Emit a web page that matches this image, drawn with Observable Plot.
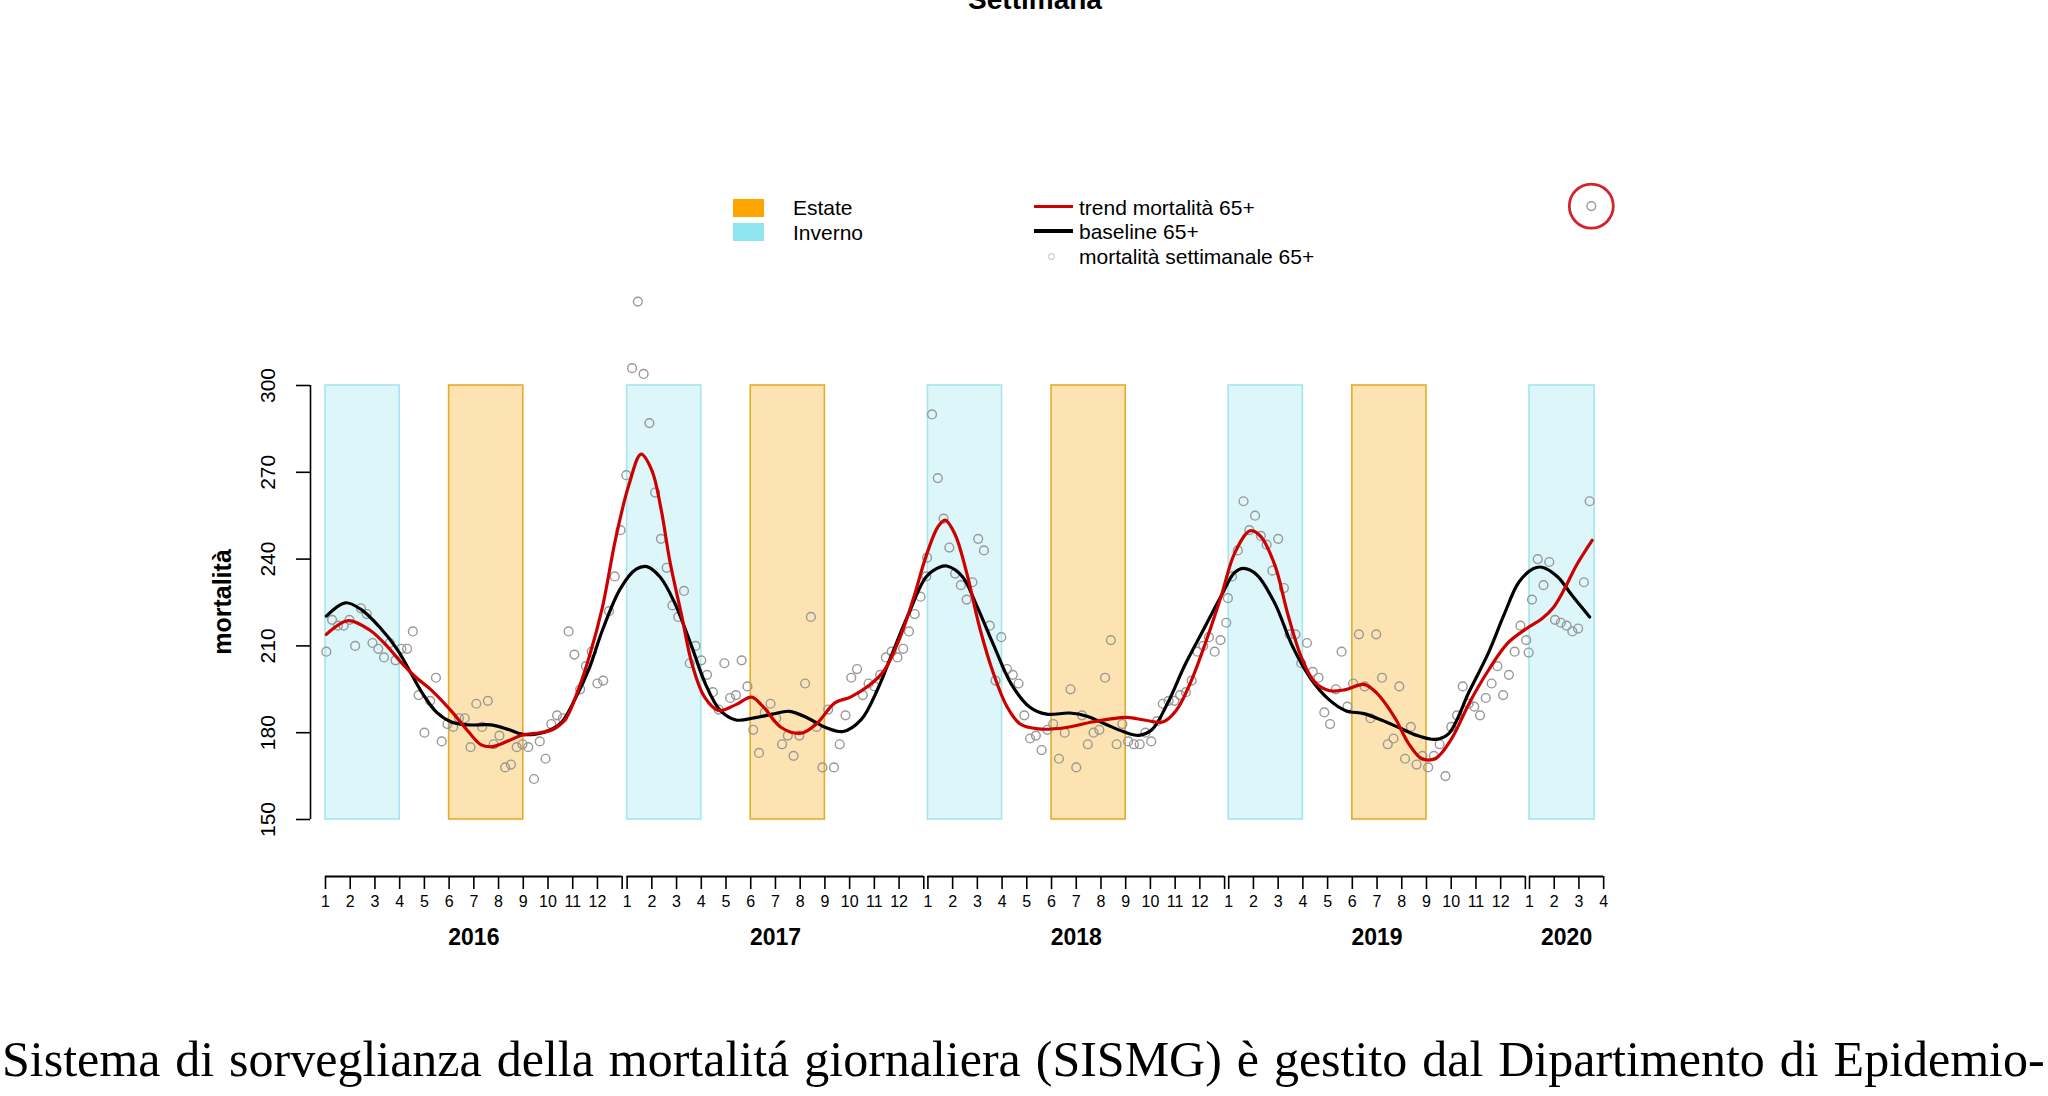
<!DOCTYPE html>
<html><head><meta charset="utf-8">
<script src="https://cdn.jsdelivr.net/npm/d3@7"></script>
<script src="https://cdn.jsdelivr.net/npm/@observablehq/plot@0.6"></script>
<style>
html,body{margin:0;padding:0;background:#fff;}
#page{position:relative;width:2048px;height:1096px;overflow:hidden;background:#fff;font-family:"Liberation Sans",Arial,sans-serif;color:#000;}
#chart{position:absolute;left:0;top:0;}
.abs{position:absolute;white-space:nowrap;}
.lg{position:absolute;white-space:nowrap;font-size:21px;line-height:21px;}
</style></head><body>
<div id="page">
  <div id="chart"></div>
  <div id="title" class="abs" style="left:1035px;top:-14px;font-size:28px;line-height:28px;font-weight:bold;transform:translateX(-50%);">Settimana</div>
  <div id="ylabel" class="abs" style="left:222px;top:602px;font-size:25px;line-height:25px;font-weight:bold;transform:translate(-50%,-50%) rotate(-90deg);">mortalità</div>
  <div class="abs" style="left:733px;top:199px;width:31px;height:18px;background:#FFA500;"></div>
  <div class="abs" style="left:733px;top:223px;width:31px;height:18px;background:#8EE5EE;"></div>
  <div class="lg" style="left:793px;top:197px;">Estate</div>
  <div class="lg" style="left:793px;top:222px;">Inverno</div>
  <div class="abs" style="left:1034px;top:204.5px;width:39px;height:3px;background:#cd0000;"></div>
  <div class="abs" style="left:1034px;top:229px;width:39px;height:3.5px;background:#000;"></div>
  <div class="abs" style="left:1047.5px;top:252.5px;width:5px;height:5px;border:1px solid #bbb;border-radius:50%;"></div>
  <div class="lg" style="left:1079px;top:197px;">trend mortalità 65+</div>
  <div class="lg" style="left:1079px;top:221px;">baseline 65+</div>
  <div class="lg" style="left:1079px;top:246px;">mortalità settimanale 65+</div>
  <div id="caption" class="abs" style="left:2px;top:1034px;font-family:'Liberation Serif','Times New Roman',serif;font-size:50px;line-height:50px;"></div>
</div>
<script>
// ---- weekly mortality 65+ (one value per Saturday, first = 2 Jan 2016) ----
const weekly2016 = [208, 219, 217, 217, 219, 210, 223, 221, 211, 209, 206, 211, 205, 209, 209, 215, 193, 180, 191, 199, 177, 183, 182, 185, 185, 175, 190, 182, 191, 176, 179, 168, 169, 175, 176, 175, 164, 177, 171, 183, 186, 185, 215, 207, 195, 203, 208, 197, 198, 222, 234, 250, 269];
const weekly2017 = [306, 329, 304, 287, 263, 247, 237, 224, 220, 229, 204, 210, 205, 200, 194, 188, 204, 192, 193, 205, 196, 181, 173, 187, 190, 185, 176, 179, 172, 179, 197, 220, 182, 168, 188, 168, 176, 186, 199, 202, 193, 197, 196, 200, 206, 208, 206, 209, 215, 221, 227, 234];
const weekly2018 = [290, 268, 254, 244, 235, 231, 226, 232, 247, 243, 217, 198, 213, 202, 200, 197, 186, 178, 179, 174, 181, 183, 171, 180, 195, 168, 186, 176, 180, 181, 199, 212, 176, 183, 177, 176, 176, 180, 177, 184, 190, 191, 191, 193, 194, 198, 208, 210, 213, 208, 212, 218];
const weekly2019 = [234, 243, 260, 250, 255, 248, 245, 236, 247, 230, 214, 214, 204, 211, 201, 199, 187, 183, 195, 208, 189, 197, 214, 196, 185, 214, 199, 176, 178, 196, 171, 182, 169, 172, 168, 172, 176, 165, 182, 186, 196, 190, 189, 186, 192, 197, 203, 193, 200, 208, 217, 212];
const weekly2020 = [226, 240, 231, 239, 219, 218, 217, 215, 216, 232, 260];
const firstSaturdayDay = 1; // days since 1 Jan 2016

// extra points at the year boundaries (partial weeks)
const boundaryDays = [730, 1095, 1460];
const boundaryValues = [240.5, 226.5, 207.7];

// highlighted (circled) latest value
const highlightDay = [1536];
const highlightValue = [362];

// ---- smooth trend (red) and baseline (black) ----
const trendDays = [1, 27, 54, 76, 92, 108, 130, 152, 173, 189, 203, 222, 238, 260, 276, 292, 306, 320, 336, 352, 368, 383, 396, 407, 418, 432, 445, 460, 477, 498, 517, 531, 553, 577, 596, 618, 637, 659, 678, 697, 713, 729, 743, 752, 764, 778, 794, 810, 827, 843, 865, 897, 930, 951, 973, 995, 1016, 1032, 1049, 1070, 1087, 1103, 1122, 1135, 1152, 1168, 1184, 1200, 1219, 1238, 1260, 1276, 1298, 1314, 1330, 1347, 1366, 1388, 1411, 1434, 1458, 1476, 1490, 1504, 1518, 1537];
const trendValues = [214, 218.7, 215.4, 209.5, 204.2, 199.6, 194.3, 187.7, 180.5, 175.8, 175.2, 177.2, 179.1, 180, 181.1, 185.1, 194.3, 206.2, 223.3, 247, 265.5, 276.3, 270.7, 257.6, 239.1, 220.7, 203.5, 192.3, 187.7, 189.7, 192.3, 189, 181.8, 179.8, 183.1, 190.3, 192.3, 196.2, 201.5, 212.8, 226, 241.2, 251.1, 253.5, 248.5, 235.3, 216.1, 200.9, 189, 183, 181.3, 181.7, 183.7, 184.7, 185.3, 184.3, 183.7, 187.6, 196.9, 212.8, 227.3, 241.9, 249.8, 247.8, 237.9, 220.7, 206.2, 197.6, 194.5, 194.9, 196.7, 193.6, 185, 176.4, 171.1, 171.1, 177.7, 190.3, 201.5, 210.8, 216.1, 219.4, 223.3, 230, 237.9, 246.5];
const baselineDays = [1, 24, 43, 65, 87, 103, 119, 135, 152, 173, 201, 222, 238, 255, 274, 287, 303, 320, 336, 358, 377, 390, 406, 423, 444, 461, 479, 498, 520, 542, 563, 585, 607, 628, 650, 670, 686, 707, 729, 745, 754, 773, 789, 811, 832, 854, 875, 903, 924, 946, 968, 987, 1003, 1022, 1043, 1065, 1087, 1103, 1114, 1130, 1152, 1173, 1195, 1217, 1238, 1260, 1282, 1303, 1325, 1347, 1363, 1388, 1411, 1430, 1448, 1465, 1476, 1495, 1513, 1534];
const baselineValues = [220.3, 224.9, 222.6, 216.7, 208.8, 200.9, 193, 187, 183.8, 182.7, 182.7, 181.1, 179.5, 179.5, 181.1, 183.8, 191.7, 202.2, 215.4, 229.9, 236.5, 237.4, 233.8, 225.3, 210.1, 196.9, 187.7, 184.4, 185.1, 186.4, 187.4, 185.1, 181.8, 180.4, 184.5, 195, 206.2, 220.7, 233.9, 237.2, 237.6, 233.9, 224.7, 210.1, 196.9, 189, 186.4, 186.8, 185.7, 183, 180.4, 179.1, 181.1, 190.3, 203.5, 215.4, 227.3, 235.3, 236.8, 234.6, 224.7, 210.1, 198.9, 191.6, 187.6, 186.6, 184.3, 181.7, 179, 177.7, 179.7, 194.3, 207.5, 220.7, 232, 236.6, 237.2, 233.9, 227.3, 220];

// ---- seasons (days since 1 Jan 2016) ----
const seasonType = ["Inverno", "Estate", "Inverno", "Estate", "Inverno", "Estate", "Inverno", "Estate", "Inverno"];
const seasonStart = [0, 150, 366, 516, 731, 881, 1096, 1246, 1461];
const seasonEnd = [90, 240, 456, 606, 821, 971, 1186, 1336, 1540];

// ---- x axis: years and 30-day month ticks ----
const yearLabels = ["2016", "2017", "2018", "2019", "2020"];
const yearStart = [0, 366, 731, 1096, 1461];
const yearMonths = [12, 12, 12, 12, 3];
const yTicks = [150, 180, 210, 240, 270, 300];

// ---- build tables ----
const weeklyValues = [...weekly2016, ...weekly2017, ...weekly2018, ...weekly2019, ...weekly2020];
const weeks = weeklyValues.map((v, i) => ({day: firstSaturdayDay + 7 * i, value: v}));
const boundary = boundaryDays.map((d, i) => ({day: d, value: boundaryValues[i]}));
const highlight = highlightDay.map((d, i) => ({day: d, value: highlightValue[i]}));
const trend = trendDays.map((d, i) => ({day: d, value: trendValues[i]}));
const baseline = baselineDays.map((d, i) => ({day: d, value: baselineValues[i]}));
const seasons = seasonType.map((t, i) => ({type: t, start: seasonStart[i], end: seasonEnd[i]}));
const years = yearLabels.map((l, i) => ({label: l, start: yearStart[i], end: yearStart[i] + 30 * yearMonths[i]}));
const monthTicks = [];
years.forEach((y, i) => {
  for (let k = 0; k <= yearMonths[i]; k++) {
    const last = i < years.length - 1 && k === yearMonths[i];
    monthTicks.push({day: y.start + 30 * k, label: last ? "" : String(k + 1)});
  }
});
const tickLabel = new Map(monthTicks.map(d => [d.day, d.label]));

const chart = Plot.plot({
  width: 2048,
  height: 960,
  marginLeft: 310,
  marginRight: 0,
  marginTop: 0,
  marginBottom: 84,
  x: {domain: [0, 1461], range: [325, 1529]},
  y: {domain: [150, 300], range: [819, 385]},
  style: {fontFamily: "'Liberation Sans', Arial, sans-serif", background: "transparent", overflow: "visible", color: "#000"},
  marks: [
    Plot.rect(seasons.filter(d => d.type === "Inverno"), {x1: "start", x2: "end", y1: yTicks[0], y2: yTicks[yTicks.length - 1], fill: "#dcf6fa", stroke: "#a4e6ee", strokeWidth: 1.6}),
    Plot.rect(seasons.filter(d => d.type === "Estate"), {x1: "start", x2: "end", y1: yTicks[0], y2: yTicks[yTicks.length - 1], fill: "#fde3b1", stroke: "#e5ac2a", strokeWidth: 1.6}),
    Plot.dot(weeks, {x: "day", y: "value", r: 4.4, stroke: "#999", strokeWidth: 1.4}),
    Plot.dot(boundary, {x: "day", y: "value", r: 4.4, stroke: "#999", strokeWidth: 1.4}),
    Plot.dot(highlight, {x: "day", y: "value", r: 4.4, stroke: "#999", strokeWidth: 1.4}),
    Plot.dot(highlight, {x: "day", y: "value", r: 22, stroke: "#d3242b", strokeWidth: 2.8}),
    Plot.line(baseline, {x: "day", y: "value", stroke: "#000", strokeWidth: 3.2, curve: "catmull-rom"}),
    Plot.line(trend, {x: "day", y: "value", stroke: "#cd0000", strokeWidth: 3.2, curve: "catmull-rom"}),
    Plot.axisY({ticks: yTicks, tickSize: 14, tickRotate: -90, tickPadding: 22, fontSize: 21, label: null, strokeWidth: 1.6, tickFormat: d => String(d)}),
    Plot.ruleX([0], {y1: yTicks[0], y2: yTicks[yTicks.length - 1], dx: -15, stroke: "#000", strokeWidth: 1.6}),
    Plot.axisX({ticks: monthTicks.map(d => d.day), tickFormat: d => tickLabel.get(d), tickSize: 13, tickPadding: 6, fontSize: 16, label: null, strokeWidth: 1.6}),
    Plot.ruleY(years, {x1: "start", x2: "end", y: yTicks[0], dy: 57, stroke: "#000", strokeWidth: 1.8}),
    Plot.text(years, {x: d => (d.start + d.end) / 2, text: "label", frameAnchor: "bottom", dy: 68, fontSize: 23, fontWeight: "bold"})
  ]
});
document.getElementById("chart").appendChild(chart);

// caption (text of the page below the chart), spaced like justified text
const captionMain = "Sistema di sorveglianza della mortalitá giornaliera (SISMG) è gestito dal Dipartimento di Epidemio";
const cap = document.getElementById("caption");
cap.textContent = captionMain + "-";
const ctx = document.createElement("canvas").getContext("2d");
ctx.font = "50px 'Liberation Serif'";
const natural = ctx.measureText(captionMain).width;
const nSpaces = (captionMain.match(/ /g) || []).length;
cap.style.wordSpacing = Math.max(0, (2028 - 2 - natural) / nSpaces) + "px";
</script>
</body></html>
